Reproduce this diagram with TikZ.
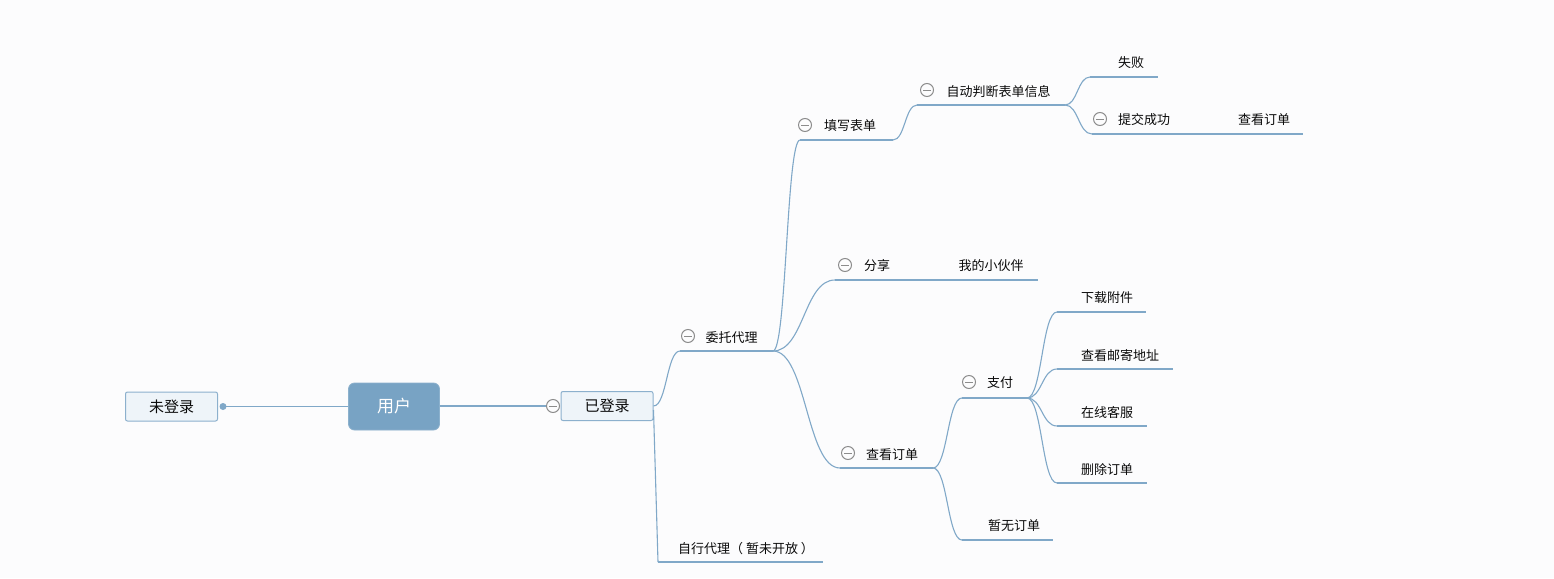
\documentclass[tikz,border=0pt]{standalone}
\usepackage{fontspec}
\setmainfont{Noto Sans CJK SC}
\usetikzlibrary{calc}
\definecolor{bg}{RGB}{252,252,253}
\definecolor{ln}{RGB}{128,168,200}
\definecolor{boxfill}{RGB}{238,244,249}
\definecolor{boxline}{RGB}{140,176,205}
\definecolor{rootfill}{RGB}{120,163,196}
\definecolor{minusc}{RGB}{140,140,140}
\definecolor{txt}{RGB}{10,10,10}
\newcommand\mmcurve[2]{\draw[conn] let \p1=(#1), \p2=(#2), \n1={(\x2-\x1)/2} in (\p1) .. controls +(\n1,0) and +(-\n1,0) .. (\p2);}
\begin{document}
\begin{tikzpicture}[x=1pt,y=-1pt,
  lbl/.style={font=\fontsize{13}{15}\selectfont, text=txt, inner sep=0pt, anchor=center, yshift=-1pt},
  conn/.style={draw=ln, line width=1.1pt},
  uline/.style={draw=ln, line width=1.3pt},
  box/.style={draw=boxline, fill=boxfill, line width=1pt, rounded corners=2pt, minimum width=92pt, minimum height=29pt, inner sep=0pt, font=\fontsize{15}{17}\selectfont, text=txt},
  rootbox/.style={draw=rootfill!85!white, fill=rootfill, line width=0.8pt, rounded corners=6pt, minimum width=91pt, minimum height=47pt, inner sep=0pt, font=\fontsize{17}{19}\selectfont, text=white},
  dotn/.style={circle, fill=ln, inner sep=0pt, minimum size=7pt},
  minus/.style={circle, draw=minusc, fill=bg, line width=1pt, inner sep=0pt, minimum size=13pt,
    path picture={\draw[minusc, line width=1pt] ([xshift=-4pt]path picture bounding box.center) -- ([xshift=4pt]path picture bounding box.center);}}
]
\fill[bg] (0,0) rectangle (1554,578);
\useasboundingbox (0,0) rectangle (1554,578);

% coordinates of underlines
\coordinate (s-wt) at (680,351); \coordinate (e-wt) at (773,351);
\coordinate (s-tx) at (800,140); \coordinate (e-tx) at (893,140);
\coordinate (s-zd) at (917,105); \coordinate (e-zd) at (1065,105);
\coordinate (s-sb) at (1090,77); \coordinate (e-sb) at (1158,77);
\coordinate (s-tj) at (1092,134); \coordinate (e-tj) at (1200,134);
\coordinate (s-ck1) at (1200,134); \coordinate (e-ck1) at (1303,134);
\coordinate (s-fx) at (835,280); \coordinate (e-fx) at (905,280);
\coordinate (s-wd) at (905,280); \coordinate (e-wd) at (1038,280);
\coordinate (s-ck) at (840,468); \coordinate (e-ck) at (933,468);
\coordinate (s-zf) at (962,398); \coordinate (e-zf) at (1027,398);
\coordinate (s-xz) at (1057,312); \coordinate (e-xz) at (1146,312);
\coordinate (s-yj) at (1057,369); \coordinate (e-yj) at (1173,369);
\coordinate (s-zk) at (1057,426); \coordinate (e-zk) at (1147,426);
\coordinate (s-sc) at (1057,483); \coordinate (e-sc) at (1147,483);
\coordinate (s-zw) at (962,540); \coordinate (e-zw) at (1053,540);
\coordinate (s-zx) at (658,562); \coordinate (e-zx) at (823,562);

% root area
\node[box] (weidl) at (171.5,406.5) {未登录};
\node[rootbox] (user) at (394,406.5) {用户};
\node[box] (yidl) at (607,406) {已登录};
\node[dotn] (dot) at (223,406.5) {};
\draw[conn] (dot.center) -- (user.west);
\node[minus] (m0) at (553,406) {};
\draw[conn] (user.east |- m0) -- (m0.west);

% connectors
\mmcurve{yidl.east}{s-wt}
\draw[conn] ([yshift=-4pt]yidl.east) -- (s-zx);
\mmcurve{e-wt}{s-tx}
\mmcurve{e-wt}{s-fx}
\mmcurve{e-wt}{s-ck}
\mmcurve{e-tx}{s-zd}
\mmcurve{e-zd}{s-sb}
\mmcurve{e-zd}{s-tj}
\mmcurve{e-ck}{s-zf}
\mmcurve{e-ck}{s-zw}
\mmcurve{e-zf}{s-xz}
\mmcurve{e-zf}{s-yj}
\mmcurve{e-zf}{s-zk}
\mmcurve{e-zf}{s-sc}

% underlines
\foreach \u in {wt,tx,zd,sb,tj,ck1,fx,wd,ck,zf,xz,yj,zk,sc,zw,zx}{
  \draw[uline] (s-\u) -- (e-\u);
}

% labels
\node[lbl] (t-wt) at (731.5,337) {委托代理};
\node[lbl] (t-tx) at (850,125) {填写表单};
\node[lbl] (t-zd) at (998.5,91) {自动判断表单信息};
\node[lbl] (t-sb) at (1131,62) {失败};
\node[lbl] (t-tj) at (1144,119) {提交成功};
\node[lbl] (t-ck1) at (1264,119) {查看订单};
\node[lbl] (t-fx) at (877,265) {分享};
\node[lbl] (t-wd) at (991,265) {我的小伙伴};
\node[lbl] (t-ck) at (892,454) {查看订单};
\node[lbl] (t-zf) at (1000,382) {支付};
\node[lbl] (t-xz) at (1107,297) {下载附件};
\node[lbl] (t-yj) at (1120,355) {查看邮寄地址};
\node[lbl] (t-zk) at (1107,412) {在线客服};
\node[lbl] (t-sc) at (1107,469) {删除订单};
\node[lbl] (t-zw) at (1014,525) {暂无订单};
\node[lbl] (t-zx) at (746,548) {自行代理（ 暂未开放 ）};

% collapse markers
\node[minus] (m-wt) at (688,336) {};
\node[minus] (m-tx) at (805,125) {};
\node[minus] (m-zd) at (927,90) {};
\node[minus] (m-tj) at (1100,119) {};
\node[minus] (m-fx) at (845,265) {};
\node[minus] (m-ck) at (848,453) {};
\node[minus] (m-zf) at (969,382) {};
\end{tikzpicture}
\end{document}
